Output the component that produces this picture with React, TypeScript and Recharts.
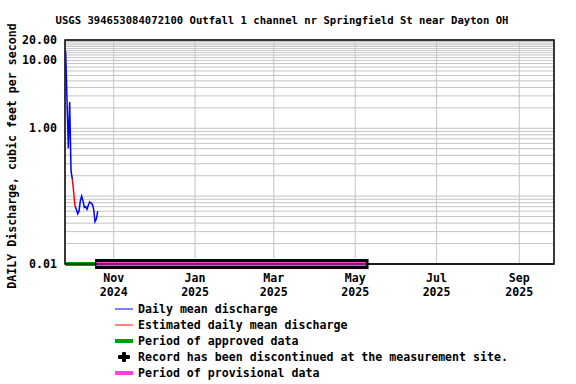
import React from "react";
import { LineChart, Line, XAxis, YAxis, CartesianGrid, ReferenceArea } from "recharts";

// ---------- data ----------
const START_DATE = "2024-09-26";
const END_DATE = "2025-09-27";

// daily mean discharge (cfs), one value per day starting at START_DATE
const dailyMean: (number | null)[] = [
  13.7, 2.58, 0.51, 2.44, 0.24, 0.178, null, 0.071,
  0.064, 0.055, 0.06, 0.085, 0.1, 0.085, 0.068, 0.07, 0.064,
  0.074, 0.082, 0.079, 0.076, 0.064, 0.042, 0.046, 0.06,
];
// estimated daily mean discharge, same day index
const estimatedMean: (number | null)[] = [
  null, null, null, null, null, 0.178, 0.115, 0.071,
];

const approvedPeriod = ["2024-09-26", "2024-10-18"];
const discontinuedPeriod = ["2024-10-18", "2025-05-11"];
const provisionalPeriod = ["2024-10-19", "2025-05-09"];

const xTickDates = ["2024-11-01", "2025-01-01", "2025-03-01", "2025-05-01", "2025-07-01", "2025-09-01"];
const xTickMonths = ["Nov", "Jan", "Mar", "May", "Jul", "Sep"];
const xTickYears = ["2024", "2025", "2025", "2025", "2025", "2025"];

const yTicks = [0.01, 1, 10, 20];
const yGridValues = [
  0.01, 0.02, 0.03, 0.04, 0.05, 0.06, 0.07, 0.08, 0.09,
  0.1, 0.2, 0.3, 0.4, 0.5, 0.6, 0.7, 0.8, 0.9,
  1, 2, 3, 4, 5, 6, 7, 8, 9,
  10, 11, 12, 13, 14, 15, 16, 17, 18, 19, 20,
];

const TITLE = "USGS 394653084072100 Outfall 1 channel nr Springfield St near Dayton OH";
const Y_LABEL = "DAILY Discharge, cubic feet per second";
const legendItems = [
  { label: "Daily mean discharge", kind: "thin", color: "#0000ff" },
  { label: "Estimated daily mean discharge", kind: "thin", color: "#ff0000" },
  { label: "Period of approved data", kind: "thick", color: "#00a000" },
  { label: "Record has been discontinued at the measurement site.", kind: "plus", color: "#000000" },
  { label: "Period of provisional data", kind: "thick", color: "#ff40e0" },
];

// ---------- helpers ----------
const DAY_MS = 86400000;
const dayOf = (s: string) => (Date.parse(s + "T00:00:00Z") - Date.parse(START_DATE + "T00:00:00Z")) / DAY_MS;
const lastDay = dayOf(END_DATE);
const firstX = -0.5;

const rows = dailyMean.map((v, i) => ({
  day: i,
  mean: v,
  est: i < estimatedMean.length ? estimatedMean[i] : null,
}));
const FLOOR = yTicks[0];
const TOP = yTicks[yTicks.length - 1];
const periodData = (p: string[]) => [
  { day: dayOf(p[0]), v: FLOOR },
  { day: dayOf(p[1]), v: FLOOR },
];
const baseLine = [
  { day: firstX, v: FLOOR },
  { day: lastDay, v: FLOOR },
];
const xTicks = xTickDates.map(dayOf);

const FONT = "'DejaVu Sans Mono', 'Liberation Mono', monospace";

const XTick = (props: any) => {
  const { x, y, payload } = props;
  const i = xTicks.indexOf(payload.value);
  return (
    <g>
      <text x={x} y={y + 6} textAnchor="middle" dominantBaseline="central" fontFamily={FONT} fontWeight="bold" fontSize={11.6} fill="#000">
        {xTickMonths[i]}
      </text>
      <text x={x} y={y + 20} textAnchor="middle" dominantBaseline="central" fontFamily={FONT} fontWeight="bold" fontSize={11.6} fill="#000">
        {xTickYears[i]}
      </text>
    </g>
  );
};

const YTick = (props: any) => {
  const { x, y, payload } = props;
  return (
    <text x={x} y={y} textAnchor="end" dominantBaseline="central" fontFamily={FONT} fontWeight="bold" fontSize={11.6} fill="#000">
      {Number(payload.value).toFixed(2)}
    </text>
  );
};

export default function App() {
  return (
    <div style={{ position: "absolute", left: 0, top: 0, width: 576, height: 384, background: "#fff" }}>
      <LineChart width={576} height={384} data={rows} margin={{ top: 40, right: 22, bottom: 80, left: 0 }}>
        <CartesianGrid stroke="#c4c4c4" strokeWidth={1} horizontalValues={yGridValues} />
        <XAxis
          dataKey="day"
          type="number"
          domain={[firstX, lastDay]}
          ticks={xTicks}
          interval={0}
          tickLine={false}
          axisLine={false}
          height={40}
          tick={XTick}
        />
        <YAxis
          type="number"
          scale="log"
          domain={[FLOOR, TOP]}
          ticks={yTicks}
          interval={0}
          tickLine={false}
          axisLine={false}
          width={65}
          tick={YTick}
        />
        <ReferenceArea x1={firstX} x2={lastDay} y1={FLOOR} y2={TOP} fill="none" stroke="#000" strokeWidth={1.5} ifOverflow="visible" />
        <Line dataKey="mean" stroke="#0000ff" strokeWidth={1.5} dot={false} isAnimationActive={false} connectNulls={false} />
        <Line dataKey="est" stroke="#ff0000" strokeWidth={1.5} dot={false} isAnimationActive={false} connectNulls={false} />
        <Line data={periodData(approvedPeriod)} dataKey="v" stroke="#00a000" strokeWidth={4} dot={false} isAnimationActive={false} />
        <Line data={periodData(discontinuedPeriod)} dataKey="v" stroke="#000000" strokeWidth={10} dot={false} isAnimationActive={false} />
        <Line data={periodData(provisionalPeriod)} dataKey="v" stroke="#ff40e0" strokeWidth={4} dot={false} isAnimationActive={false} />
        <Line data={baseLine} dataKey="v" stroke="#000000" strokeWidth={1} dot={false} isAnimationActive={false} />
      </LineChart>
      <svg width={576} height={384} style={{ position: "absolute", left: 0, top: 0, pointerEvents: "none" }}>
        <text x={282} y={20} textAnchor="middle" dominantBaseline="central" fontFamily={FONT} fontWeight="bold" fontSize={10.6} fill="#000">
          {TITLE}
        </text>
        <text transform="translate(12,156) rotate(-90)" textAnchor="middle" dominantBaseline="central" fontFamily={FONT} fontWeight="bold" fontSize={11.6} fill="#000">
          {Y_LABEL}
        </text>
        {legendItems.map((it, i) => {
          const cy = 309 + i * 16;
          return (
            <g key={it.label}>
              {it.kind === "thin" && <line x1={115} x2={133} y1={cy} y2={cy} stroke={it.color} strokeWidth={1} />}
              {it.kind === "thick" && <line x1={115} x2={133} y1={cy} y2={cy} stroke={it.color} strokeWidth={4} />}
              {it.kind === "plus" && (
                <g fill={it.color}>
                  <rect x={118} y={cy - 2} width={12} height={4} rx={1} />
                  <rect x={122} y={cy - 5} width={4} height={10} rx={1} />
                </g>
              )}
              <text x={138} y={cy} dominantBaseline="central" fontFamily={FONT} fontWeight="bold" fontSize={11.6} fill="#000">
                {it.label}
              </text>
            </g>
          );
        })}
      </svg>
    </div>
  );
}
